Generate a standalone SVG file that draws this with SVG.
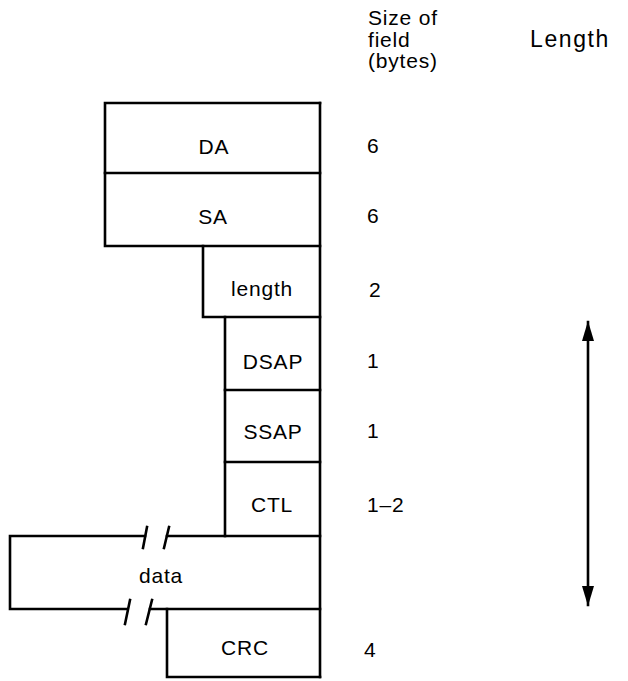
<svg xmlns="http://www.w3.org/2000/svg" width="628" height="681" viewBox="0 0 628 681">
<style>
.ln{stroke:#000;stroke-width:2.6;fill:none;stroke-linecap:square}
.t{font-family:"Liberation Sans",Arial,sans-serif;font-size:21px;fill:#000;letter-spacing:0.8px}
.c{text-anchor:middle}
</style>
<defs>
<marker id="ah" viewBox="0 0 20 14" refX="19" refY="7" markerWidth="20" markerHeight="14" markerUnits="userSpaceOnUse" orient="auto-start-reverse">
<path d="M0,1 L20,7 L0,13 z" fill="#000"/>
</marker>
</defs>
<rect width="628" height="681" fill="#fff"/>
<g id="header">
<text class="t" x="368" y="25">Size of</text>
<text class="t" x="368" y="47">field</text>
<text class="t" x="368" y="68">(bytes)</text>
<text class="t" x="530" y="47" style="font-size:23px;letter-spacing:1.6px">Length</text>
</g>
<g id="frame">
<path class="ln" d="M320,103 V677"/>
</g>
<g id="DA">
<path class="ln" d="M105,173 V103 H320"/>
<text class="t c" x="214" y="154">DA</text>
<text class="t" x="367" y="153">6</text>
</g>
<g id="SA">
<path class="ln" d="M105,173 H320 M105,173 V246 H320"/>
<text class="t c" x="213" y="224">SA</text>
<text class="t" x="367" y="223">6</text>
</g>
<g id="length">
<path class="ln" d="M203,246 V317 H320"/>
<text class="t c" x="262" y="296">length</text>
<text class="t" x="369" y="297">2</text>
</g>
<g id="DSAP">
<path class="ln" d="M225,317 V390 H320"/>
<text class="t c" x="273" y="369">DSAP</text>
<text class="t" x="367" y="368">1</text>
</g>
<g id="SSAP">
<path class="ln" d="M225,390 V462 H320"/>
<text class="t c" x="273" y="439">SSAP</text>
<text class="t" x="367" y="438">1</text>
</g>
<g id="CTL">
<path class="ln" d="M225,462 V536"/>
<text class="t c" x="272" y="512">CTL</text>
<text class="t" x="367" y="512">1–2</text>
</g>
<g id="data">
<path class="ln" d="M145,536 H10 V609 H127 M150,609 H320 M167,536 H320"/>
<path class="ln" d="M143,548 L147,527 M164,548 L169,527 M125,624 L130,600 M146,624 L152,600"/>
<text class="t c" x="161" y="583">data</text>
</g>
<g id="CRC">
<path class="ln" d="M167,609 V677 H320"/>
<text class="t c" x="245" y="655">CRC</text>
<text class="t" x="364" y="657">4</text>
</g>
<g id="connectors">
<line class="ln" x1="588" y1="322" x2="588" y2="605" stroke-linecap="butt" marker-start="url(#ah)" marker-end="url(#ah)"/>
</g>
</svg>
